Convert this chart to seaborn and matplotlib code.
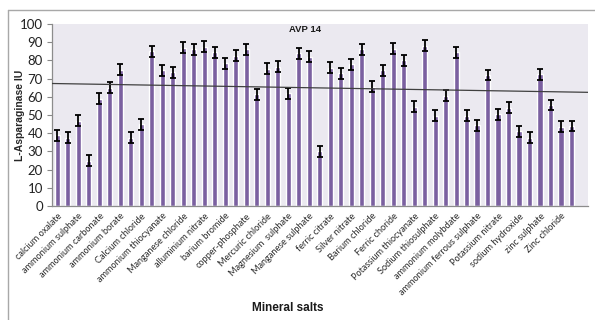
import numpy as np
import pandas as pd
import matplotlib
matplotlib.use("Agg")
import matplotlib.pyplot as plt
from matplotlib.lines import Line2D
import seaborn as sns

# Salt names (one label per pair of bars)
salts = [
    "calcium oxalate", "ammonium sulphate", "ammonium carbonate", "ammonium borate",
    "Calcium chloride", "ammonium thiocyanate", "Manganese chloride", "alluminium nitrate",
    "barium bromide", "copper-phosphate", "Mercuric chloride", "Magnesium  sulphate",
    "Manganese sulphate", "ferric citrate", "Silver nitrate", "Barium chloride",
    "Ferric choride", "Potassium thiocyanate", "Sodium thiosulphate", "ammonium molybdate",
    "ammonium ferrous sulphate", "Potassium nitrate", "sodium hydroxide", "zinc sulphate",
    "Zinc chloride",
]

# L-asparaginase activity (IU) for each bar
activity = [
    39, 37.5, 47, 25, 59, 65, 75, 37.5, 45, 85,
    74.5, 73.5, 87, 86, 87.5, 84.5, 78.5, 82.5, 86, 61.5,
    75.5, 76.5, 62, 84, 82, 30, 76, 73, 78, 86,
    65.5, 74.5, 86.5, 80, 54.5, 88, 49.5, 60.5, 84.5, 49.5,
    44.5, 72, 50.5, 54, 41, 37.5, 72.5, 55.5, 43.5, 44,
]
errors = [3] * len(activity)

title = "AVP 14"
y_label = "L-Asparaginase IU"
x_label = "Mineral salts"

df = pd.DataFrame({"bar": np.arange(len(activity)), "activity": activity})

sns.set_style("white")
plt.rcParams["font.family"] = ["Lato", "DejaVu Sans"]
bold_family = "Liberation Sans"

fig = plt.figure(figsize=(5.95, 3.20), dpi=100)
ax = fig.add_axes([0.0874, 0.356, 0.9006, 0.569])
ax.set_facecolor("#EBE9F0")

bar_color = "#7B60A0"
sns.barplot(data=df, x="bar", y="activity", color=bar_color, width=0.5,
            saturation=1, errorbar=None, ax=ax)
ax.errorbar(df["bar"], df["activity"], yerr=errors, fmt="none",
            ecolor="black", elinewidth=1.3, capsize=2.2, capthick=1.3, zorder=3)

# Linear trend through all bars
sns.regplot(x=df["bar"].astype(float), y=df["activity"], scatter=False, ci=None,
            truncate=False, ax=ax, line_kws={"color": "#404040", "lw": 0.9, "zorder": 4})

ax.set_xlim(-0.5, 50.55)
ax.set_ylim(0, 100)
ax.set_yticks(range(0, 101, 10))
ax.tick_params(axis="y", labelsize=9.5, length=3.5, width=0.8, color="#888888",
               labelcolor="#222222", left=True, pad=3)
ax.set_xticks(np.arange(0, len(activity), 2))
ax.set_xticklabels(salts, rotation=45, ha="right", rotation_mode="anchor",
                   fontsize=6.6, color="#2a2a2a")
ax.tick_params(axis="x", length=0, pad=4)

for s in ["top", "right"]:
    ax.spines[s].set_visible(False)
for s in ["left", "bottom"]:
    ax.spines[s].set_color("#8C8C8C")
    ax.spines[s].set_linewidth(0.9)

ax.set_xlabel("")
ax.set_ylabel(y_label, fontsize=7.5, fontweight="bold", family=bold_family)
ax.yaxis.set_label_coords(-0.05, 0.5)
ax.text(0.472, 0.972, title, transform=ax.transAxes, ha="center", va="center",
        fontsize=6.8, fontweight="bold", family=bold_family, color="#1a1a1a")
fig.text(288 / 595, 1 - 308 / 320, x_label, ha="center", va="center",
         fontsize=8.5, fontweight="bold", family=bold_family, color="#1a1a1a")

# Chart-area frame
fig.add_artist(Line2D([8 / 595, 1.0], [1 - 10 / 320] * 2, color="#A8A8A8", lw=1.0))
fig.add_artist(Line2D([8 / 595] * 2, [0.0, 1 - 10 / 320], color="#A8A8A8", lw=1.0))

fig.savefig("out.png", dpi=100)
